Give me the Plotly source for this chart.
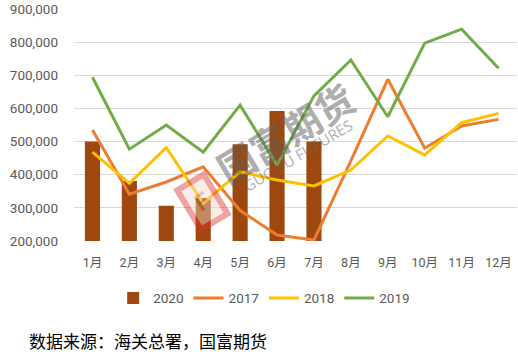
import plotly.graph_objects as go

months = ["1月", "2月", "3月", "4月", "5月", "6月", "7月", "8月", "9月", "10月", "11月", "12月"]
v2020 = [500000, 381000, 306000, 330000, 492000, 592000, 500000]
v2017 = [535000, 341000, 378000, 424000, 292000, 218000, 203000, 442000, 688000, 480000, 547000, 567000]
v2018 = [468000, 374000, 482000, 314000, 409000, 384000, 366000, 414000, 517000, 460000, 557000, 585000]
v2019 = [694000, 477000, 550000, 468000, 610000, 429000, 638000, 746000, 575000, 797000, 839000, 721000]
yticks = [200000, 300000, 400000, 500000, 600000, 700000, 800000, 900000]
source = "数据来源：海关总署，国富期货"

fig = go.Figure()
fig.add_trace(go.Bar(x=months[:len(v2020)], y=v2020, name="2020",
                     marker=dict(color="#9E480E", line=dict(width=0)), width=0.41))
fig.add_trace(go.Scatter(x=months, y=v2017, name="2017", mode="lines",
                         line=dict(color="#ED7D31", width=3)))
fig.add_trace(go.Scatter(x=months, y=v2018, name="2018", mode="lines",
                         line=dict(color="#FFC000", width=3)))
fig.add_trace(go.Scatter(x=months, y=v2019, name="2019", mode="lines",
                         line=dict(color="#70AD47", width=3)))

fig.update_layout(
    width=518, height=355,
    margin=dict(l=74, r=1, t=9, b=114, autoexpand=False),
    paper_bgcolor="white", plot_bgcolor="white",
    font=dict(family="Roboto, Noto Sans CJK SC, sans-serif", color="#595959", size=12),
    showlegend=True,
    legend=dict(orientation="h", x=0.51, xanchor="center", xref="container",
                y=0.16, yanchor="middle", yref="container",
                font=dict(size=13.5, color="#595959"), traceorder="normal"),
    xaxis=dict(type="category", categoryorder="array", categoryarray=months,
               showgrid=False, showline=False, ticks="", tickfont=dict(size=12.5),
               range=[-0.5, 11.5], automargin=False, ticklabelstandoff=12),
    yaxis=dict(range=[200000, 900000], tickvals=yticks, tickformat=",.0f",
               showgrid=True, gridcolor="#D9D9D9", gridwidth=1, zeroline=False,
               showline=False, ticks="", tickfont=dict(size=13.5),
               automargin=False, ticklabelstandoff=15),
    bargap=0.59,
    annotations=[
        dict(text=source, xref="paper", yref="paper", x=-0.107, y=-0.43,
             xanchor="left", yanchor="middle", showarrow=False,
             font=dict(family="Noto Sans CJK SC", size=17, color="#000000")),
        dict(text="<b>国富期货</b>", xref="paper", yref="paper", x=0.476, y=0.466,
             showarrow=False, textangle=-31, opacity=0.5,
             font=dict(family="Noto Sans CJK SC", size=38, color="#606060")),
        dict(text="GUO FU FUTURES", xref="paper", yref="paper", x=0.506, y=0.371,
             showarrow=False, textangle=-31, opacity=0.5,
             font=dict(family="Open Sans", size=15, color="#606060")),
        dict(text="<b>F</b>", xref="paper", yref="paper", x=0.224, y=0.03,
             showarrow=False, textangle=-31, opacity=0.45,
             bgcolor="#F3D9C8", bordercolor="#E03030", borderwidth=6, borderpad=6,
             font=dict(family="Roboto", size=24, color="#C08060")),
    ],
)

fig.write_html("out.html", config={"displayModeBar": False},
               post_script="document.body.style.margin='0';")
